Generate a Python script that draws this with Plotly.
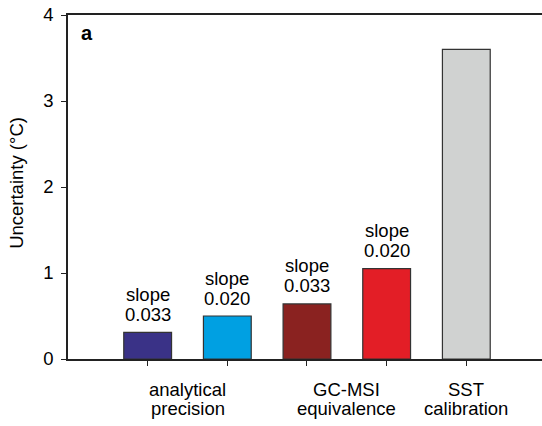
import plotly.graph_objects as go

positions = [1, 2, 3, 4, 5]
values = [0.31, 0.50, 0.64, 1.05, 3.60]
colors = ["#3a3287", "#00a0e2", "#8a2220", "#e31e26", "#d0d2d1"]
slope_line1 = ["slope", "slope", "slope", "slope", ""]
slope_line2 = ["0.033", "0.020", "0.033", "0.020", ""]
group_positions = [1.5, 3.5, 5]
group_line1 = ["analytical", "GC-MSI", "SST"]
group_line2 = ["precision", "equivalence", "calibration"]
y_ticks = [0, 1, 2, 3, 4]

FONT = "Liberation Sans, Arial, sans-serif"
FS = 18.5
font = dict(family=FONT, size=FS, color="black")

fig = go.Figure()
fig.add_trace(go.Bar(
    x=positions, y=values, width=0.6,
    marker=dict(color=colors, line=dict(color="#333333", width=1.2)),
    showlegend=False, hoverinfo="skip",
))

annotations = []
for p, v, t1, t2 in zip(positions, values, slope_line1, slope_line2):
    if t1:
        annotations.append(dict(x=p, y=v, xref="x", yref="y", text=t1, showarrow=False,
                                yanchor="middle", yshift=38, font=font))
        annotations.append(dict(x=p, y=v, xref="x", yref="y", text=t2, showarrow=False,
                                yanchor="middle", yshift=18, font=font))
for p, t1, t2 in zip(group_positions, group_line1, group_line2):
    annotations.append(dict(x=p, y=0, xref="x", yref="y", text=t1, showarrow=False,
                            yanchor="middle", yshift=-30, font=font))
    annotations.append(dict(x=p, y=0, xref="x", yref="y", text=t2, showarrow=False,
                            yanchor="middle", yshift=-49, font=font))
annotations.append(dict(x=0.023, y=0.948, xref="paper", yref="paper", text="<b>a</b>",
                        showarrow=False, xanchor="left", yanchor="middle",
                        font=dict(family=FONT, size=20, color="black")))
annotations.append(dict(x=(17 - 68) / 474, y=0.512, xref="paper", yref="paper",
                        text="Uncertainty (°C)", textangle=-90, showarrow=False,
                        xanchor="center", yanchor="middle", font=font))

fig.update_layout(
    width=542, height=426,
    margin=dict(l=68, r=0, t=15, b=67),
    paper_bgcolor="white", plot_bgcolor="white",
    font=font,
    annotations=annotations,
    xaxis=dict(range=[0, 5.95], tickvals=positions, ticktext=[""] * 5,
               ticks="outside", ticklen=5, tickcolor="#222222",
               showline=True, linecolor="#222222", linewidth=1.5, mirror=True,
               showgrid=False, zeroline=False, fixedrange=True),
    yaxis=dict(range=[0, 4], tickvals=y_ticks, ticks="outside", ticklen=5,
               tickcolor="#222222", showline=True, linecolor="#222222", linewidth=1.5,
               showgrid=False, zeroline=False, ticklabelstandoff=4,
               tickfont=font),
)

fig.write_html("out.html")
